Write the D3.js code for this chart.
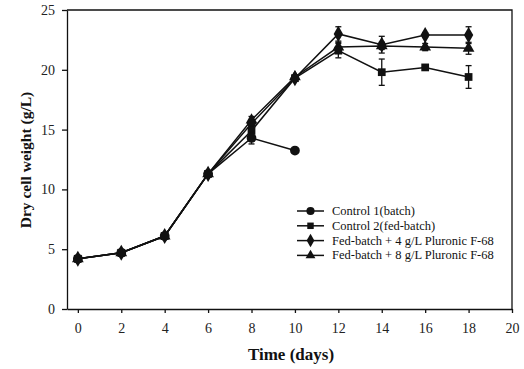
<!DOCTYPE html>
<html>
<head>
<meta charset="utf-8">
<script src="https://cdn.jsdelivr.net/npm/d3@7"></script>
<style>
  body { margin: 0; background: #fff; }
  svg { display: block; }
  .axis text { font-family: 'Liberation Serif', serif; font-size: 14px; fill: #222; }
  .axis path, .axis line { stroke: #111; stroke-width: 1.3; }
  .title { font-family: 'Liberation Serif', serif; font-weight: bold; fill: #111; }
  .legend text { font-family: 'Liberation Serif', serif; font-size: 12.5px; fill: #111; }
</style>
</head>
<body>
<svg id="chart"></svg>
<script>
// days sampled
const days = [0, 2, 4, 6, 8, 10, 12, 14, 16, 18]

// dry cell weight (g/L)
const control1 = [4.2, 4.7, 6.1, 11.3, 14.3, 13.25]
const control2 = [4.2, 4.7, 6.1, 11.3, 14.9, 19.3, 21.6, 19.8, 20.2, 19.4]
const fed4 = [4.2, 4.7, 6.1, 11.3, 15.5, 19.3, 23.0, 22.1, 22.9, 22.9]
const fed8 = [4.2, 4.7, 6.1, 11.3, 15.8, 19.4, 21.9, 22.0, 21.9, 21.8]

// error bar half-widths
const control1Err = [0, 0, 0, 0, 0.5, 0]
const control2Err = [0, 0, 0, 0, 0.4, 0, 0.6, 1.1, 0.15, 0.95]
const fed4Err = [0, 0, 0, 0, 0.3, 0, 0.6, 0.7, 0.2, 0.7]
const fed8Err = [0, 0, 0, 0, 0.3, 0, 0.4, 0.3, 0.3, 0.5]

const seriesNames = ['Control 1(batch)', 'Control 2(fed-batch)',
  'Fed-batch + 4 g/L Pluronic F-68', 'Fed-batch + 8 g/L Pluronic F-68']

const xTickValues = [0, 2, 4, 6, 8, 10, 12, 14, 16, 18, 20]
const yTickValues = [0, 5, 10, 15, 20, 25]

const width = 524
const height = 369
const margin = { top: 10, right: 12, bottom: 60, left: 67 }
const w = width - margin.left - margin.right
const h = height - margin.top - margin.bottom

const svg = d3.select('#chart')
  .attr('width', width)
  .attr('height', height)

const chart = svg.append('g')
  .attr('transform', `translate(${margin.left}, ${margin.top})`)

const xScale = d3.scaleLinear().domain([-0.5, 20]).range([0, w])
const yScale = d3.scaleLinear().domain([0, 25]).range([h, 0])

const xAxis = d3.axisBottom(xScale)
  .tickValues(xTickValues)
  .tickSize(4)
  .tickSizeOuter(0)
  .tickPadding(10)

const yAxis = d3.axisLeft(yScale)
  .tickValues(yTickValues)
  .tickSize(5)
  .tickSizeOuter(0)
  .tickPadding(7)

// frame top and right
chart.append('path')
  .attr('d', `M0,0H${w}V${h}`)
  .attr('fill', 'none')
  .attr('stroke', '#111')
  .attr('stroke-width', 1.3)

chart.append('g')
  .attr('class', 'x axis')
  .attr('transform', `translate(0, ${h})`)
  .call(xAxis)

chart.append('g')
  .attr('class', 'y axis')
  .call(yAxis)

svg.append('text')
  .attr('class', 'title')
  .attr('x', 291)
  .attr('y', 360)
  .attr('text-anchor', 'middle')
  .style('font-size', '17px')
  .text('Time (days)')

svg.append('text')
  .attr('class', 'title')
  .attr('transform', 'translate(31, 160) rotate(-90)')
  .attr('text-anchor', 'middle')
  .style('font-size', '15.5px')
  .text('Dry cell weight (g/L)')

const series = [
  { name: seriesNames[0], values: control1, err: control1Err, symbol: d3.symbolCircle, size: 75 },
  { name: seriesNames[1], values: control2, err: control2Err, symbol: d3.symbolSquare, size: 60 },
  { name: seriesNames[2], values: fed4, err: fed4Err, symbol: d3.symbolDiamond, size: 75 },
  { name: seriesNames[3], values: fed8, err: fed8Err, symbol: d3.symbolTriangle, size: 60 }
]

const line = d3.line()
  .x(d => xScale(d.day))
  .y(d => yScale(d.value))

// draw back to front so Control 1 sits on top
series.slice().reverse().forEach(s => {
  const pts = s.values.map((v, i) => ({ day: days[i], value: v, err: s.err[i] }))
  const g = chart.append('g')

  g.append('path')
    .attr('d', line(pts))
    .attr('fill', 'none')
    .attr('stroke', '#111')
    .attr('stroke-width', 1.5)

  const bars = g.selectAll('.err')
    .data(pts.filter(d => d.err > 0))
    .enter()
    .append('g')
    .attr('class', 'err')

  bars.append('line')
    .attr('x1', d => xScale(d.day))
    .attr('x2', d => xScale(d.day))
    .attr('y1', d => yScale(d.value - d.err))
    .attr('y2', d => yScale(d.value + d.err))
    .attr('stroke', '#111')
    .attr('stroke-width', 1.3)

  ;[-1, 1].forEach(sign => {
    bars.append('line')
      .attr('x1', d => xScale(d.day) - 3)
      .attr('x2', d => xScale(d.day) + 3)
      .attr('y1', d => yScale(d.value + sign * d.err))
      .attr('y2', d => yScale(d.value + sign * d.err))
      .attr('stroke', '#111')
      .attr('stroke-width', 1.3)
  })

  g.selectAll('.dot')
    .data(pts)
    .enter()
    .append('path')
    .attr('class', 'dot')
    .attr('d', d3.symbol().type(s.symbol).size(s.size))
    .attr('transform', d => `translate(${xScale(d.day)}, ${yScale(d.value)})`)
    .attr('fill', '#111')
})

// legend
const legend = svg.append('g')
  .attr('class', 'legend')
  .attr('transform', 'translate(297, 211)')

series.forEach((s, i) => {
  const row = legend.append('g')
    .attr('transform', `translate(0, ${i * 14.8})`)
  row.append('line')
    .attr('x1', 0)
    .attr('x2', 27)
    .attr('stroke', '#111')
    .attr('stroke-width', 1.5)
  row.append('path')
    .attr('d', d3.symbol().type(s.symbol).size(s.size * 0.7))
    .attr('transform', 'translate(13.5, 0)')
    .attr('fill', '#111')
  row.append('text')
    .attr('x', 35)
    .attr('y', 4)
    .text(s.name)
})
</script>
</body>
</html>
